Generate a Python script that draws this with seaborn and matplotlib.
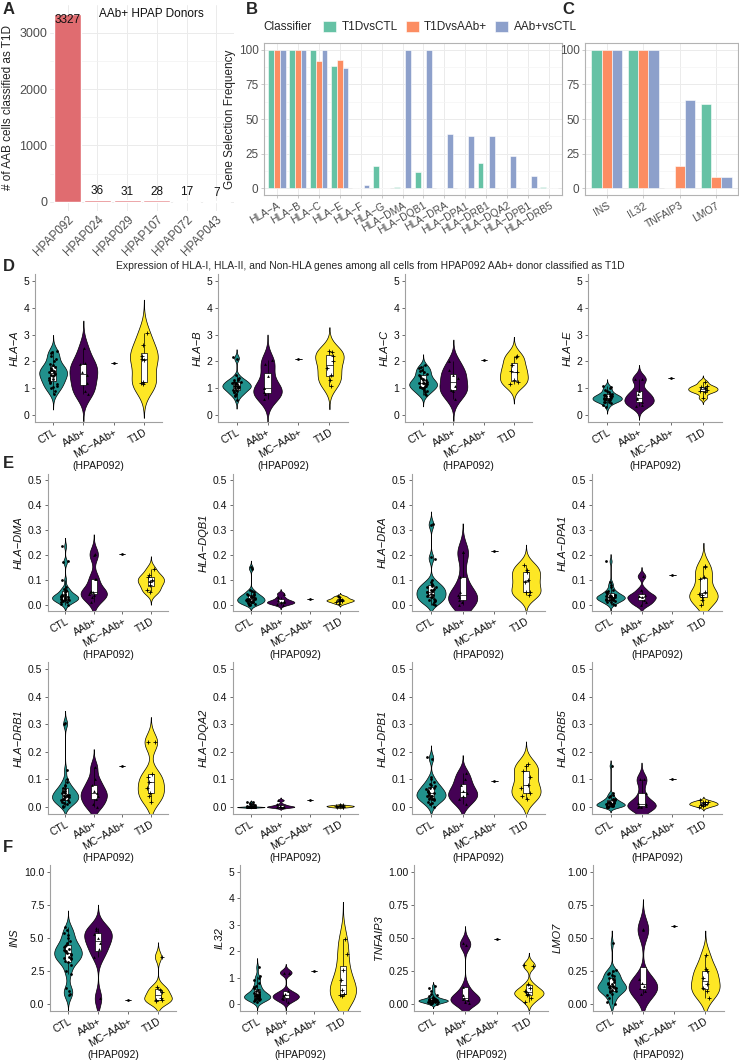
import numpy as np
import pandas as pd
import matplotlib
matplotlib.use("Agg")
import matplotlib.pyplot as plt
import seaborn as sns

sns.set_theme(style="ticks")
plt.rcParams["font.family"] = ["Liberation Sans", "DejaVu Sans"]

# ---------------- Panel A data ----------------
donors = ["HPAP092", "HPAP024", "HPAP029", "HPAP107", "HPAP072", "HPAP043"]
donor_counts = [3327, 36, 31, 28, 17, 7]

# ---------------- Panel B data ----------------
hla_genes = ["HLA\u2212A", "HLA\u2212B", "HLA\u2212C", "HLA\u2212E", "HLA\u2212F", "HLA\u2212G",
             "HLA\u2212DMA", "HLA\u2212DQB1", "HLA\u2212DRA", "HLA\u2212DPA1", "HLA\u2212DRB1",
             "HLA\u2212DQA2", "HLA\u2212DPB1", "HLA\u2212DRB5"]
classifiers = ["T1DvsCTL", "T1DvsAAb+", "AAb+vsCTL"]
hla_t1d_vs_ctl = [100, 100, 100, 88, 0, 16, 1, 12, 0, 0, 18, 0, 0, 1]
hla_t1d_vs_aab = [100, 100, 92, 93, 0, 0, 0, 0, 0, 0, 0, 0, 0, 0]
hla_aab_vs_ctl = [100, 100, 100, 87, 2, 0, 100, 100, 39, 38, 38, 23, 9, 0]

# ---------------- Panel C data ----------------
nonhla_genes = ["INS", "IL32", "TNFAIP3", "LMO7"]
non_t1d_vs_ctl = [100, 100, 0, 61]
non_t1d_vs_aab = [100, 100, 16, 8]
non_aab_vs_ctl = [100, 100, 64, 8]

# ---------------- Violin data (per-cell expression estimates) ----------------
groups = ["CTL", "AAb+", "MC\u2212AAb+", "T1D"]

hla_a_ctl = [0.8, 0.9, 1.0, 1.05, 1.1, 1.15, 1.2, 1.25, 1.3, 1.35, 1.4, 1.45, 1.5, 1.5, 1.55,
             1.6, 1.6, 1.65, 1.7, 1.7, 1.75, 1.8, 1.85, 1.9, 2.0, 2.1, 2.2, 2.3, 2.35, 2.4]
hla_a_aab = [0.8, 0.9, 1.2, 1.5, 1.6, 1.9, 1.95, 2.5]
hla_a_mc = [1.93]
hla_a_t1d = [1.15, 1.2, 1.25, 2.05, 2.1, 2.2, 2.6, 3.05]

hla_b_ctl = [0.55, 0.7, 0.75, 0.8, 0.85, 0.85, 0.9, 0.95, 0.95, 1.0, 1.0, 1.05, 1.05, 1.05, 1.1,
             1.1, 1.1, 1.15, 1.15, 1.2, 1.2, 1.25, 1.25, 1.3, 1.3, 1.35, 1.4, 1.5, 2.1, 2.15]
hla_b_aab = [0.6, 0.8, 0.85, 1.0, 1.0, 1.45, 1.9, 2.05]
hla_b_mc = [2.1]
hla_b_t1d = [1.1, 1.3, 1.5, 1.75, 2.0, 2.2, 2.35, 2.4]

hla_c_ctl = [0.75, 0.8, 0.85, 0.9, 0.95, 1.0, 1.0, 1.05, 1.05, 1.1, 1.1, 1.15, 1.15, 1.2, 1.2,
             1.2, 1.25, 1.3, 1.3, 1.35, 1.4, 1.45, 1.5, 1.55, 1.6, 1.65, 1.7, 1.75, 1.8, 1.85]
hla_c_aab = [0.6, 0.9, 0.95, 1.1, 1.4, 1.5, 1.7, 2.0]
hla_c_mc = [2.05]
hla_c_t1d = [1.15, 1.25, 1.3, 1.6, 1.65, 1.85, 2.15, 2.2]

hla_e_ctl = [0.3, 0.4, 0.45, 0.5, 0.5, 0.5, 0.55, 0.55, 0.55, 0.6, 0.6, 0.6, 0.6, 0.65, 0.65,
             0.65, 0.7, 0.7, 0.7, 0.7, 0.75, 0.75, 0.8, 0.8, 0.85, 0.9, 0.95, 1.0, 1.05, 1.1]
hla_e_aab = [0.35, 0.4, 0.5, 0.6, 0.65, 0.8, 0.9, 1.35, 1.35]
hla_e_mc = [1.37]
hla_e_t1d = [0.65, 0.85, 0.9, 0.95, 1.0, 1.05, 1.1, 1.25]

hla_dma_ctl = [0.0, 0.005, 0.01, 0.012, 0.015, 0.018, 0.02, 0.02, 0.022, 0.025, 0.025, 0.028,
               0.03, 0.03, 0.032, 0.035, 0.035, 0.038, 0.04, 0.04, 0.045, 0.05, 0.055, 0.06,
               0.065, 0.07, 0.1, 0.17, 0.175, 0.235]
hla_dma_aab = [0.01, 0.03, 0.04, 0.045, 0.05, 0.05, 0.055, 0.105, 0.105, 0.2, 0.205]
hla_dma_mc = [0.205]
hla_dma_t1d = [0.05, 0.06, 0.08, 0.09, 0.1, 0.11, 0.12, 0.145]

hla_dqb1_ctl = [0.0, 0.0, 0.003, 0.005, 0.008, 0.01, 0.01, 0.012, 0.015, 0.015, 0.018, 0.02,
                0.02, 0.022, 0.025, 0.025, 0.028, 0.03, 0.03, 0.032, 0.035, 0.038, 0.04, 0.042,
                0.045, 0.05, 0.055, 0.06, 0.145, 0.15]
hla_dqb1_aab = [0.0, 0.005, 0.01, 0.01, 0.015, 0.02, 0.03, 0.045]
hla_dqb1_mc = [0.025]
hla_dqb1_t1d = [0.005, 0.01, 0.015, 0.015, 0.02, 0.02, 0.025, 0.03, 0.035]

hla_dra_ctl = [0.0, 0.005, 0.01, 0.015, 0.02, 0.02, 0.025, 0.03, 0.03, 0.035, 0.04, 0.04, 0.045,
               0.05, 0.05, 0.055, 0.06, 0.06, 0.065, 0.07, 0.07, 0.075, 0.08, 0.085, 0.09, 0.1,
               0.185, 0.19, 0.32, 0.325]
hla_dra_aab = [0.0, 0.01, 0.02, 0.03, 0.04, 0.05, 0.11, 0.21, 0.21]
hla_dra_mc = [0.215]
hla_dra_t1d = [0.04, 0.05, 0.05, 0.09, 0.1, 0.13, 0.14, 0.16]

hla_dpa1_ctl = [0.0, 0.005, 0.01, 0.012, 0.015, 0.018, 0.02, 0.02, 0.022, 0.025, 0.025, 0.028,
                0.03, 0.03, 0.03, 0.032, 0.035, 0.035, 0.038, 0.04, 0.04, 0.045, 0.05, 0.05,
                0.055, 0.06, 0.07, 0.08, 0.09, 0.175]
hla_dpa1_aab = [0.0, 0.01, 0.02, 0.03, 0.035, 0.04, 0.06, 0.115]
hla_dpa1_mc = [0.12]
hla_dpa1_t1d = [0.0, 0.02, 0.03, 0.04, 0.045, 0.05, 0.105, 0.11, 0.15, 0.155]

hla_drb1_ctl = [0.0, 0.005, 0.01, 0.015, 0.02, 0.02, 0.025, 0.025, 0.03, 0.03, 0.035, 0.035,
                0.04, 0.04, 0.045, 0.045, 0.05, 0.05, 0.055, 0.06, 0.06, 0.065, 0.07, 0.075,
                0.08, 0.09, 0.1, 0.135, 0.3, 0.305]
hla_drb1_aab = [0.0, 0.01, 0.03, 0.04, 0.05, 0.06, 0.08, 0.1, 0.145]
hla_drb1_mc = [0.15]
hla_drb1_t1d = [0.02, 0.04, 0.05, 0.07, 0.09, 0.11, 0.12, 0.235, 0.235]

hla_dqa2_ctl = [0.0] * 20 + [0.002, 0.003, 0.005, 0.005, 0.008, 0.01, 0.012, 0.015, 0.018, 0.02]
hla_dqa2_aab = [0.0, 0.0, 0.0, 0.002, 0.005, 0.01, 0.025]
hla_dqa2_mc = [0.025]
hla_dqa2_t1d = [0.0, 0.0, 0.002, 0.003, 0.004, 0.005, 0.006, 0.008]

hla_dpb1_ctl = [0.0, 0.01, 0.015, 0.02, 0.025, 0.03, 0.03, 0.03, 0.035, 0.04, 0.04, 0.04, 0.045,
                0.05, 0.05, 0.05, 0.055, 0.06, 0.06, 0.065, 0.07, 0.07, 0.075, 0.08, 0.085, 0.09,
                0.1, 0.11, 0.175, 0.18]
hla_dpb1_aab = [0.01, 0.03, 0.04, 0.05, 0.06, 0.08, 0.1, 0.125]
hla_dpb1_mc = [0.095]
hla_dpb1_t1d = [0.03, 0.04, 0.05, 0.07, 0.08, 0.11, 0.13, 0.15, 0.155]

hla_drb5_ctl = [0.0, 0.0, 0.0, 0.002, 0.003, 0.005, 0.005, 0.005, 0.008, 0.008, 0.01, 0.01, 0.01,
                0.012, 0.012, 0.015, 0.015, 0.018, 0.02, 0.02, 0.02, 0.025, 0.025, 0.03, 0.03,
                0.035, 0.04, 0.045, 0.05, 0.15]
hla_drb5_aab = [0.0, 0.0, 0.003, 0.005, 0.01, 0.015, 0.05, 0.1, 0.1]
hla_drb5_mc = [0.1]
hla_drb5_t1d = [0.0, 0.005, 0.008, 0.01, 0.012, 0.015, 0.018, 0.02, 0.025]

ins_ctl = [0.7, 0.8, 1.0, 1.2, 2.3, 2.5, 3.0, 3.2, 3.3, 3.4, 3.5, 3.5, 3.6, 3.7, 3.8, 3.9, 4.0,
           4.0, 4.1, 4.2, 4.3, 4.4, 4.5, 4.6, 4.8, 5.0, 5.2, 5.4, 5.6, 5.8]
ins_aab = [0.45, 3.6, 4.2, 4.6, 5.0, 5.3, 5.6, 5.75]
ins_mc = [0.35]
ins_t1d = [0.25, 0.3, 0.35, 0.5, 0.9, 1.1, 1.3, 3.6]

il32_ctl = [0.1, 0.12, 0.15, 0.18, 0.2, 0.2, 0.22, 0.25, 0.25, 0.28, 0.3, 0.3, 0.3, 0.32, 0.35,
            0.35, 0.38, 0.4, 0.42, 0.45, 0.5, 0.55, 0.6, 0.65, 0.7, 0.8, 0.9, 1.0, 1.05, 1.4]
il32_aab = [0.1, 0.2, 0.25, 0.3, 0.35, 0.4, 0.5, 1.2, 1.2]
il32_mc = [1.25]
il32_t1d = [0.3, 0.35, 0.4, 0.55, 0.9, 1.3, 1.9, 2.45]

tnfaip3_ctl = [0.0, 0.005, 0.01, 0.012, 0.015, 0.018, 0.02, 0.02, 0.022, 0.025, 0.025, 0.028,
               0.03, 0.03, 0.03, 0.032, 0.035, 0.035, 0.038, 0.04, 0.04, 0.045, 0.05, 0.055,
               0.06, 0.07, 0.08, 0.1, 0.12, 0.14]
tnfaip3_aab = [0.01, 0.02, 0.03, 0.04, 0.05, 0.07, 0.13, 0.45, 0.46]
tnfaip3_mc = [0.49]
tnfaip3_t1d = [0.02, 0.05, 0.07, 0.08, 0.09, 0.1, 0.12, 0.15, 0.29, 0.3]

lmo7_ctl = [0.0, 0.02, 0.05, 0.07, 0.08, 0.09, 0.1, 0.1, 0.11, 0.12, 0.12, 0.12, 0.13, 0.13,
            0.14, 0.14, 0.15, 0.15, 0.16, 0.17, 0.18, 0.19, 0.2, 0.21, 0.22, 0.23, 0.24, 0.25,
            0.26, 0.46]
lmo7_aab = [0.08, 0.1, 0.12, 0.14, 0.16, 0.19, 0.56, 0.57]
lmo7_mc = [0.59]
lmo7_t1d = [0.05, 0.1, 0.12, 0.15, 0.2, 0.25, 0.27, 0.37]

# ---------------- Styles ----------------
W, H = 739, 1060
fig = plt.figure(figsize=(W / 100, H / 100), dpi=100)


def add_ax(left, top, right, bottom):
    return fig.add_axes([left / W, 1 - bottom / H, (right - left) / W, (bottom - top) / H])


set2 = {"T1DvsCTL": "#66C2A5", "T1DvsAAb+": "#FC8D62", "AAb+vsCTL": "#8DA0CB"}
donor_colors = ["#E06C70", "#E06C70", "#E17175", "#E47C80", "#EC9DA0", "#F5CDCF"]
grp_pal = {"CTL": "#21908C", "AAb+": "#440154", "MC\u2212AAb+": "#888888", "T1D": "#FDE725"}
grp_markers = {"CTL": "o", "AAb+": "^", "MC\u2212AAb+": "o", "T1D": "+"}
grey_txt = "#4D4D4D"


def nrd0(kde):
    """R's default (bw.nrd0) bandwidth, returned as a factor of the sample sd."""
    x = np.asarray(kde.dataset).ravel()
    n = x.size
    sd = np.std(x, ddof=1)
    q75, q25 = np.percentile(x, [75, 25])
    lo = min(sd, (q75 - q25) / 1.34)
    if lo <= 0:
        lo = sd if sd > 0 else 1.0
    bw = 0.9 * lo * n ** (-0.2)
    return bw / sd if sd > 0 else 1.0


# ---------------- Panel A ----------------
axA = add_ax(50, 5, 234, 211)
dfA = pd.DataFrame({"donor": donors, "count": donor_counts})
sns.barplot(data=dfA, x="donor", y="count", hue="donor", palette=donor_colors,
            width=0.92, legend=False, ax=axA, saturation=1, zorder=2)
axA.set_xlim(-0.6, len(donors) - 0.4)
axA.set_ylim(-166, 3493)
axA.set_yticks([0, 1000, 2000, 3000])
axA.set_yticks([500, 1500, 2500], minor=True)
axA.grid(True, which="major", color="#EBEBEB", linewidth=0.7, zorder=0)
axA.grid(True, which="minor", axis="y", color="#F2F2F2", linewidth=0.5, zorder=0)
axA.set_axisbelow(True)
for s in axA.spines.values():
    s.set_visible(False)
axA.tick_params(axis="both", which="both", length=0, labelsize=8.5, colors=grey_txt, pad=2)
axA.tick_params(axis="y", labelsize=9)
plt.setp(axA.get_xticklabels(), rotation=45, ha="right", rotation_mode="anchor")
axA.set_xlabel("")
axA.set_ylabel("# of AAB cells classified as T1D", fontsize=8.5, color="#222222", labelpad=4)
for i, v in enumerate(donor_counts):
    if i == 0:
        axA.text(i, v, str(v), ha="center", va="top", fontsize=8.5, color="#111111")
    else:
        axA.text(i, v + 40, str(v), ha="center", va="bottom", fontsize=8.5, color="#111111")
axA.text(0.55, 0.955, "AAb+ HPAP Donors", transform=axA.transAxes, ha="center", va="center",
         fontsize=8.5, color="#111111")

# ---------------- Panel B ----------------
axB = add_ax(264, 43, 562, 195)
dfB = pd.DataFrame({
    "gene": hla_genes * 3,
    "classifier": np.repeat(classifiers, len(hla_genes)),
    "freq": hla_t1d_vs_ctl + hla_t1d_vs_aab + hla_aab_vs_ctl,
})
sns.barplot(data=dfB, x="gene", y="freq", hue="classifier", hue_order=classifiers,
            palette=set2, width=0.85, edgecolor="white", linewidth=0.4, saturation=1,
            ax=axB, zorder=2)
handles, labels = axB.get_legend_handles_labels()
axB.get_legend().remove()
axB.set_xlim(-0.6, len(hla_genes) - 0.4)
axB.set_ylim(-5, 105)
axB.set_yticks([0, 25, 50, 75, 100])
axB.set_yticks([12.5, 37.5, 62.5, 87.5], minor=True)
axB.grid(True, which="major", color="#EBEBEB", linewidth=0.7, zorder=0)
axB.grid(True, which="minor", axis="y", color="#F4F4F4", linewidth=0.5, zorder=0)
axB.set_axisbelow(True)
for s in axB.spines.values():
    s.set_color("#B3B3B3")
    s.set_linewidth(0.8)
axB.tick_params(axis="both", which="major", length=2.5, width=0.5, color="#B3B3B3",
                labelsize=7.5, labelcolor=grey_txt, pad=1.5)
axB.tick_params(axis="y", which="minor", length=0)
axB.tick_params(axis="y", labelsize=8.5)
plt.setp(axB.get_xticklabels(), rotation=30, ha="right", rotation_mode="anchor")
axB.set_xlabel("")
axB.set_ylabel("Gene Selection Frequency", fontsize=8.5, color="#222222", labelpad=2)

fig.text(263 / W, 1 - 27 / H, "Classifier", fontsize=8.5, va="center", ha="left")
fig.legend(handles, labels, loc="center left", bbox_to_anchor=(323 / W, 1 - 27 / H), ncol=3,
           frameon=False, handlelength=1.1, handleheight=1.1, handletextpad=0.45,
           columnspacing=0.7, fontsize=8.5, borderpad=0, borderaxespad=0)

# ---------------- Panel C ----------------
axC = add_ax(585, 43, 738, 195)
dfC = pd.DataFrame({
    "gene": nonhla_genes * 3,
    "classifier": np.repeat(classifiers, len(nonhla_genes)),
    "freq": non_t1d_vs_ctl + non_t1d_vs_aab + non_aab_vs_ctl,
})
sns.barplot(data=dfC, x="gene", y="freq", hue="classifier", hue_order=classifiers,
            palette=set2, width=0.85, edgecolor="white", linewidth=0.4, saturation=1,
            ax=axC, legend=False, zorder=2)
axC.set_xlim(-0.6, len(nonhla_genes) - 0.4)
axC.set_ylim(-5, 105)
axC.set_yticks([0, 25, 50, 75, 100])
axC.set_yticks([12.5, 37.5, 62.5, 87.5], minor=True)
axC.grid(True, which="major", color="#EBEBEB", linewidth=0.7, zorder=0)
axC.grid(True, which="minor", axis="y", color="#F4F4F4", linewidth=0.5, zorder=0)
axC.set_axisbelow(True)
for s in axC.spines.values():
    s.set_color("#B3B3B3")
    s.set_linewidth(0.8)
axC.tick_params(axis="both", which="major", length=2.5, width=0.5, color="#B3B3B3",
                labelsize=7.5, labelcolor=grey_txt, pad=1.5)
axC.tick_params(axis="y", which="minor", length=0)
axC.tick_params(axis="y", labelsize=8.5)
plt.setp(axC.get_xticklabels(), rotation=30, ha="right", rotation_mode="anchor")
axC.set_xlabel("")
axC.set_ylabel("")

# ---------------- Violin panels ----------------
np.random.seed(3)


def violin_panel(ax, gene, ctl, aab, mc, t1d, ymax, yticks, fmt):
    df = pd.DataFrame({
        "grp": ["CTL"] * len(ctl) + ["AAb+"] * len(aab) + ["MC\u2212AAb+"] * len(mc)
               + ["T1D"] * len(t1d),
        "val": list(ctl) + list(aab) + list(mc) + list(t1d),
    })
    multi = df[df["grp"] != "MC\u2212AAb+"]
    sns.violinplot(data=multi, x="grp", y="val", order=groups, hue="grp", hue_order=groups,
                   palette=grp_pal, density_norm="area", width=0.92, cut=3,
                   bw_method=nrd0, inner=None, linewidth=0.5, linecolor="black",
                   saturation=1, legend=False, ax=ax)
    sns.boxplot(data=df, x="grp", y="val", order=groups, width=0.2, color="white",
                linecolor="black", linewidth=0.5, showfliers=False, showcaps=False,
                saturation=1, ax=ax)
    for g in groups:
        sub = df[df["grp"] == g]
        m = grp_markers[g]
        sns.stripplot(data=sub, x="grp", y="val", order=groups, marker=m, color="black",
                      size=2.6 if m == "+" else 2.0, jitter=0.15,
                      linewidth=0.6 if m == "+" else 0, ax=ax, zorder=5)
    ax.set_xlim(-0.6, 3.6)
    pad = ymax * 0.05
    ax.set_ylim(-pad, ymax + pad)
    ax.set_yticks(yticks)
    ax.set_yticklabels([fmt.format(t) for t in yticks])
    for side in ["top", "right"]:
        ax.spines[side].set_visible(False)
    for side in ["left", "bottom"]:
        ax.spines[side].set_color("#A0A0A0")
        ax.spines[side].set_linewidth(0.8)
    ax.tick_params(axis="both", length=2.5, width=0.5, color="#333333", labelsize=7.5,
                   labelcolor="#111111", pad=1.5)
    plt.setp(ax.get_xticklabels(), rotation=30, ha="right", rotation_mode="anchor")
    ax.set_xlabel("(HPAP092)", fontsize=7.5, labelpad=1, color="#111111")
    ax.set_ylabel(gene, fontsize=8, style="italic", labelpad=3, color="#111111")


hla1_ticks = [0, 1, 2, 3, 4, 5]
hla2_ticks = [0.0, 0.1, 0.2, 0.3, 0.4, 0.5]

rowD = [(35, 162), (218, 348), (405, 532), (588, 722)]
rowE = [(48, 168), (233, 358), (412, 545), (592, 722)]

panelsD = [("HLA\u2212A", hla_a_ctl, hla_a_aab, hla_a_mc, hla_a_t1d),
           ("HLA\u2212B", hla_b_ctl, hla_b_aab, hla_b_mc, hla_b_t1d),
           ("HLA\u2212C", hla_c_ctl, hla_c_aab, hla_c_mc, hla_c_t1d),
           ("HLA\u2212E", hla_e_ctl, hla_e_aab, hla_e_mc, hla_e_t1d)]
for (l, r), (gname, a, b, c, d) in zip(rowD, panelsD):
    ax = add_ax(l, 274, r, 422)
    violin_panel(ax, gname, a, b, c, d, 5, hla1_ticks, "{:d}")

panelsE1 = [("HLA\u2212DMA", hla_dma_ctl, hla_dma_aab, hla_dma_mc, hla_dma_t1d),
            ("HLA\u2212DQB1", hla_dqb1_ctl, hla_dqb1_aab, hla_dqb1_mc, hla_dqb1_t1d),
            ("HLA\u2212DRA", hla_dra_ctl, hla_dra_aab, hla_dra_mc, hla_dra_t1d),
            ("HLA\u2212DPA1", hla_dpa1_ctl, hla_dpa1_aab, hla_dpa1_mc, hla_dpa1_t1d)]
for (l, r), (gname, a, b, c, d) in zip(rowE, panelsE1):
    ax = add_ax(l, 474, r, 611)
    violin_panel(ax, gname, a, b, c, d, 0.5, hla2_ticks, "{:.1f}")

panelsE2 = [("HLA\u2212DRB1", hla_drb1_ctl, hla_drb1_aab, hla_drb1_mc, hla_drb1_t1d),
            ("HLA\u2212DQA2", hla_dqa2_ctl, hla_dqa2_aab, hla_dqa2_mc, hla_dqa2_t1d),
            ("HLA\u2212DPB1", hla_dpb1_ctl, hla_dpb1_aab, hla_dpb1_mc, hla_dpb1_t1d),
            ("HLA\u2212DRB5", hla_drb5_ctl, hla_drb5_aab, hla_drb5_mc, hla_drb5_t1d)]
for (l, r), (gname, a, b, c, d) in zip(rowE, panelsE2):
    ax = add_ax(l, 662, r, 814)
    violin_panel(ax, gname, a, b, c, d, 0.5, hla2_ticks, "{:.1f}")

panelsF = [("INS", ins_ctl, ins_aab, ins_mc, ins_t1d, 10, [0, 2.5, 5, 7.5, 10], "{:.1f}"),
           ("IL32", il32_ctl, il32_aab, il32_mc, il32_t1d, 5, [0, 1, 2, 3, 4, 5], "{:.0f}"),
           ("TNFAIP3", tnfaip3_ctl, tnfaip3_aab, tnfaip3_mc, tnfaip3_t1d, 1,
            [0, 0.25, 0.5, 0.75, 1.0], "{:.2f}"),
           ("LMO7", lmo7_ctl, lmo7_aab, lmo7_mc, lmo7_t1d, 1,
            [0, 0.25, 0.5, 0.75, 1.0], "{:.2f}")]
rowF = [(50, 176), (240, 360), (414, 548), (593, 724)]
for (l, r), (gname, a, b, c, d, ymax, ticks, fmt) in zip(rowF, panelsF):
    ax = add_ax(l, 865, r, 1011)
    violin_panel(ax, gname, a, b, c, d, ymax, ticks, fmt)

# ---------------- Titles & panel letters ----------------
fig.text(370 / W, 1 - 266 / H,
         "Expression of HLA-I, HLA-II, and Non-HLA genes among all cells from HPAP092 AAb+ donor classified as T1D",
         ha="center", va="center", fontsize=7.5)
for letter, x, y in [("A", 3, 9), ("B", 246, 9), ("C", 562, 9), ("D", 3, 266),
                     ("E", 3, 463), ("F", 3, 848)]:
    fig.text(x / W, 1 - y / H, letter, fontsize=12, fontweight="bold", ha="left", va="center")

fig.savefig("out.png", dpi=100)
